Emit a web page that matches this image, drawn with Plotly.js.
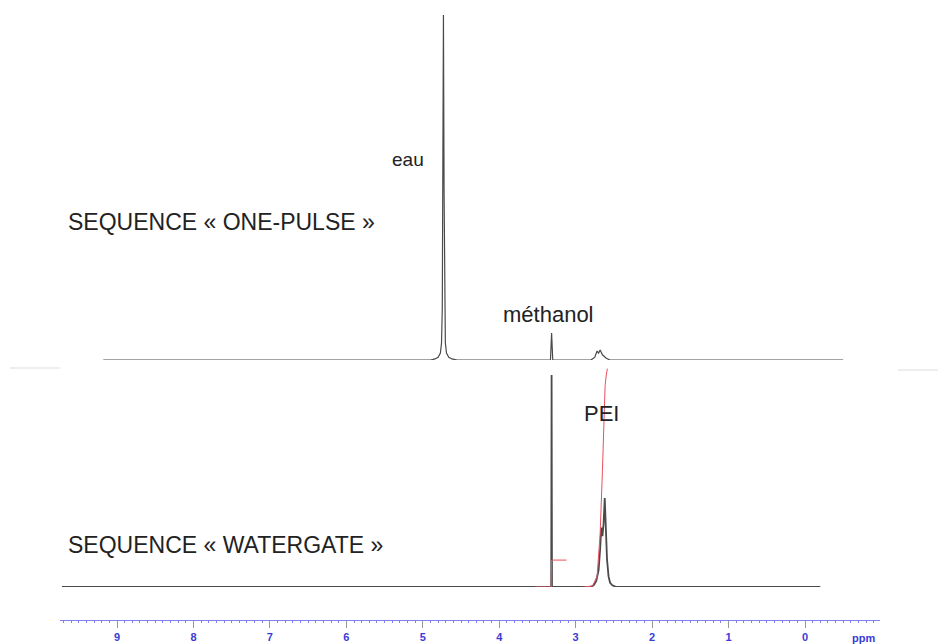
<!DOCTYPE html>
<html>
<head>
<meta charset="utf-8">
<script src="https://cdn.plot.ly/plotly-3.0.1.min.js"></script>
<style>html,body{margin:0;padding:0;background:#fff;}#chart{width:938px;height:644px;}</style>
</head>
<body>
<div id="chart"></div>
<script>
// Top spectrum: "one-pulse" sequence (ppm, relative intensity, water peak = 100)
const onePulsePpm = [9.18, 4.90, 4.84, 4.80, 4.77, 4.755, 4.745, 4.738, 4.73, 4.722, 4.715, 4.705, 4.69, 4.66, 4.62, 4.55, 3.33, 3.315, 3.30, 2.80, 2.75, 2.72, 2.70, 2.68, 2.65, 2.60, 2.55, -0.50];
const onePulseInt = [0, 0, 0.3, 0.8, 2, 5, 15, 50, 100, 50, 15, 5, 2, 0.8, 0.3, 0, 0, 7.8, 0, 0, 0.8, 2.6, 2.0, 2.9, 1.5, 0.5, 0, 0];

// Bottom spectrum: "watergate" sequence (methanol peak = 100)
const watergatePpm = [9.72, 3.34, 3.32, 3.315, 3.31, 2.80, 2.76, 2.73, 2.70, 2.68, 2.665, 2.65, 2.635, 2.62, 2.605, 2.59, 2.57, 2.55, 2.52, 2.47, -0.20];
const watergateInt = [0, 0, 0, 100, 0, 0, 1, 3, 8, 18, 28, 24, 30, 42, 26, 13, 5, 2, 0.8, 0, 0];

// Integral curves (red)
const integral1Ppm = [3.53, 3.32, 3.315, 3.30, 3.12];
const integral1Val = [0, 0, 12.7, 12.7, 12.7];
const integral2Ppm = [2.90, 2.78, 2.72, 2.68, 2.65, 2.63, 2.615, 2.60, 2.585];
const integral2Val = [0, 0.5, 5, 25, 55, 80, 95, 100, 103];

// Axis ticks
const tickValues = [9, 8, 7, 6, 5, 4, 3, 2, 1, 0];
const tickLabels = ['9', '8', '7', '6', '5', '4', '3', '2', '1', '0'];

const FONT = 'Liberation Sans, Arial, sans-serif';

const traces = [
  {x: onePulsePpm, y: onePulseInt, xaxis: 'x', yaxis: 'y2', mode: 'lines',
   line: {color: '#4a4a4a', width: 1.2}, hoverinfo: 'skip'},
  {x: watergatePpm, y: watergateInt, xaxis: 'x', yaxis: 'y', mode: 'lines',
   line: {color: '#4a4a4a', width: 1.8}, hoverinfo: 'skip'},
  {x: integral1Ppm, y: integral1Val, xaxis: 'x', yaxis: 'y', mode: 'lines',
   line: {color: '#e8505e', width: 1}, hoverinfo: 'skip'},
  {x: integral2Ppm, y: integral2Val, xaxis: 'x', yaxis: 'y', mode: 'lines',
   line: {color: '#e8505e', width: 1}, hoverinfo: 'skip'}
];

const layout = {
  width: 938, height: 644,
  margin: {l: 0, r: 0, t: 0, b: 0},
  paper_bgcolor: '#ffffff', plot_bgcolor: 'rgba(0,0,0,0)',
  showlegend: false,
  font: {family: FONT, color: '#222'},
  xaxis: {
    domain: [60/938, 880/938],
    range: [9.746, -0.981],
    anchor: 'free', position: 24/644,
    showgrid: false, zeroline: false,
    showline: true, linecolor: '#8080ee', linewidth: 1,
    ticks: 'outside', ticklen: 7, tickcolor: '#999', tickwidth: 1,
    tickvals: tickValues, ticktext: tickLabels,
    tickfont: {family: FONT, size: 11, color: '#3a3ad6', weight: 'bold'},
    minor: {dtick: 0.1, ticks: 'outside', ticklen: 2, tickcolor: '#8080ee', showgrid: false}
  },
  yaxis: {
    domain: [57/644, 0.65],
    range: [0, (587 - 0.35*644) / 212 * 100],
    visible: false, showgrid: false, zeroline: false
  },
  yaxis2: {
    domain: [284/644, 1],
    range: [0, 360/345*100],
    visible: false, showgrid: false, zeroline: false
  },
  shapes: [
    {type: 'line', xref: 'paper', yref: 'paper', x0: 10/938, x1: 60/938, y0: (644-368)/644, y1: (644-368)/644,
     line: {color: '#dddddd', width: 1}},
    {type: 'line', xref: 'paper', yref: 'paper', x0: 898/938, x1: 1, y0: (644-370)/644, y1: (644-370)/644,
     line: {color: '#dddddd', width: 1}}
  ],
  annotations: [
    {text: 'eau', xref: 'x', yref: 'y2', x: 5.19, y: 58, showarrow: false,
     font: {family: FONT, size: 19, color: '#222'}},
    {text: 'SEQUENCE « ONE-PULSE »', xref: 'paper', yref: 'paper', x: 66/938, y: (644-222)/644,
     xanchor: 'left', yanchor: 'middle', showarrow: false,
     font: {family: FONT, size: 23, color: '#222'}},
    {text: 'méthanol', xref: 'x', yref: 'y2', x: 3.36, y: 13.3, showarrow: false,
     font: {family: FONT, size: 22, color: '#222'}},
    {text: 'PEI', xref: 'x', yref: 'y', x: 2.66, y: 82, showarrow: false,
     font: {family: FONT, size: 22, color: '#222'}},
    {text: 'SEQUENCE « WATERGATE »', xref: 'paper', yref: 'paper', x: 66/938, y: (644-545)/644,
     xanchor: 'left', yanchor: 'middle', showarrow: false,
     font: {family: FONT, size: 23, color: '#222'}},
    {text: '<b>ppm</b>', xref: 'paper', yref: 'paper', x: 863/938, y: (644-638)/644,
     xanchor: 'center', yanchor: 'middle', showarrow: false,
     font: {family: FONT, size: 11, color: '#3a3ad6'}}
  ]
};

Plotly.newPlot('chart', traces, layout, {displayModeBar: false, staticPlot: true});
</script>
</body>
</html>
